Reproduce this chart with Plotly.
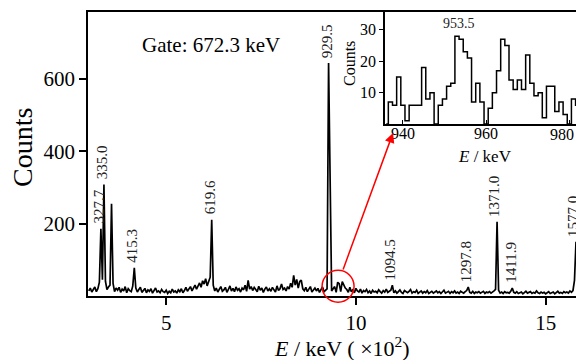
import numpy as np
import plotly.graph_objects as go

# ---------------- data ----------------
# main spectrum: 4 keV bins, centres 296 ... 1580 keV
bin_start, bin_step = 296, 4
main_counts = [
    14, 22, 11, 18, 25, 12, 20, 38, 186, 45,      # 296-332
    308, 40, 18, 25, 30, 255, 35, 12, 22, 16,     # 336-372
    24, 10, 19, 14, 26, 9, 20, 15, 12, 28,        # 376-412
    78, 22, 11, 18, 24, 10, 16, 21, 9, 17,        # 416-452
    13, 20, 8, 15, 22, 11, 14, 9, 18, 12,         # 456-492
    10, 16, 7, 13, 9, 19, 11, 14, 8, 17,          # 496-532
    12, 20, 9, 15, 24, 13, 18, 26, 14, 22,        # 536-572
    30, 19, 27, 36, 24, 42, 33, 48, 28, 40,       # 576-612
    52, 211, 30, 14, 22, 11, 19, 26, 13, 17,      # 616-652
    24, 10, 18, 28, 14, 21, 12, 25, 16, 20,       # 656-692
    11, 22, 17, 30, 13, 43, 19, 26, 15, 24,       # 696-732
    18, 12, 27, 16, 22, 10, 19, 25, 14, 20,       # 736-772
    13, 24, 17, 11, 28, 15, 20, 33, 18, 22,       # 776-812
    14, 26, 19, 35, 24, 57, 30, 46, 22, 40,       # 816-852
    44, 20, 15, 24, 12, 19, 26, 11, 17, 22,       # 856-892
    14, 21, 10, 18, 25, 12, 16, 20, 644, 250,     # 896-932
    14, 20, 26, 10, 38, 34, 12, 40, 28, 22,       # 936-972
    18, 10, 24, 12, 17, 9, 21, 14, 11, 19,        # 976-1012
    8, 15, 12, 18, 9, 14, 7, 16, 11, 13,          # 1016-1052
    9, 17, 12, 8, 15, 11, 19, 10, 13, 16,         # 1056-1092
    30, 9, 14, 8, 12, 17, 10, 7, 15, 11,          # 1096-1132
    9, 13, 18, 8, 12, 10, 16, 7, 11, 14,          # 1136-1172
    8, 12, 9, 15, 7, 11, 13, 8, 10, 14,           # 1176-1212
    9, 12, 7, 11, 16, 8, 10, 13, 7, 12,           # 1216-1252
    9, 14, 8, 11, 7, 13, 10, 8, 12, 15,           # 1256-1292
    25, 10, 8, 13, 7, 11, 9, 12, 8, 10,           # 1296-1332
    13, 7, 11, 9, 12, 8, 10, 14, 18, 205,         # 1336-1372
    16, 8, 11, 7, 12, 9, 10, 8, 13, 22,           # 1376-1412
    10, 8, 12, 7, 9, 11, 6, 10, 13, 8,            # 1416-1452
    9, 12, 7, 10, 8, 14, 9, 7, 11, 8,             # 1456-1492
    10, 6, 9, 12, 7, 8, 11, 6, 9, 13,             # 1496-1532
    8, 10, 7, 12, 9, 11, 8, 14, 10, 15,           # 1536-1572
    43, 150,                                      # 1576-1580
]
main_energy = [(bin_start + bin_step * i) / 100 for i in range(len(main_counts))]  # x 10^2 keV

peak_labels = ["327.7", "335.0", "415.3", "619.6", "929.5",
               "1094.5", "1297.8", "1371.0", "1411.9", "1577.0"]

# inset: 1 keV bins, 936 ... 983 keV
inset_energy = list(range(936, 984))
inset_counts = [0, 7, 6, 15, 6, 1, 6, 6, 6, 18, 8, 10, 0, 6, 8, 12, 13, 28, 27,
                23, 21, 7, 13, 7, 0, 5, 10, 17, 27, 25, 14, 11, 14, 11, 22, 13,
                9, 10, 2, 12, 12, 4, 7, 3, 0, 8, 6, 6]
inset_label = "953.5"

main_yticks = [200, 400, 600]
main_xticks = [5, 10, 15]
inset_xticks = [940, 960, 980]
inset_yticks = [10, 20, 30]

# ---------------- layout helpers ----------------
W, H = 576, 360
ML, MR, MT, MB = 88, 0, 12, 64
PW, PH = W - ML - MR, H - MT - MB
XR = [2.94, 15.80]
YR = [0, 785]
XR2 = [935.7, 981.6]

def paper(px, py):
    return (px - ML) / PW, (H - MB - py) / PH

FONT = "Liberation Serif"
fig = go.Figure()

fig.add_trace(go.Scatter(x=main_energy, y=main_counts, mode="lines",
                         line=dict(color="black", width=1.7),
                         xaxis="x", yaxis="y", showlegend=False,
                         hoverinfo="skip"))

fig.add_trace(go.Scatter(x=inset_energy, y=inset_counts, mode="lines",
                         line=dict(color="black", width=1.5, shape="hvh"),
                         xaxis="x2", yaxis="y2", showlegend=False,
                         hoverinfo="skip"))

inset_x0 = paper(385, 0)[0]
inset_y0 = paper(0, 124)[1]

fig.update_layout(
    width=W, height=H,
    margin=dict(l=ML, r=MR, t=MT, b=MB),
    paper_bgcolor="white", plot_bgcolor="rgba(0,0,0,0)",
    font=dict(family=FONT, color="black"),
    xaxis=dict(domain=[0, 1], range=XR, tickvals=main_xticks,
               showline=True, linecolor="black", linewidth=1.8, mirror=True,
               ticks="outside", ticklen=7, tickwidth=1.5, tickcolor="black",
               tickfont=dict(size=21, family=FONT),
               showgrid=False, zeroline=False),
    yaxis=dict(domain=[0, 1], range=YR, tickvals=main_yticks,
               showline=True, linecolor="black", linewidth=1.8,
               ticks="outside", ticklen=7, tickwidth=1.5, tickcolor="black",
               tickfont=dict(size=21, family=FONT),
               showgrid=False, zeroline=False),
    xaxis2=dict(domain=[inset_x0, 1], range=XR2, anchor="y2",
                tickvals=inset_xticks, showline=True, linecolor="black",
                linewidth=1.5, mirror=True, ticks="inside", ticklen=4,
                tickwidth=1.2, tickcolor="black", ticklabelstandoff=-6,
                tickfont=dict(size=16, family=FONT),
                showgrid=False, zeroline=False),
    yaxis2=dict(domain=[inset_y0, 1], range=[0, 35.7], anchor="x2",
                tickvals=inset_yticks, showline=True, linecolor="black",
                linewidth=1.5, ticks="outside", ticklen=4, tickwidth=1.2,
                tickcolor="black", tickfont=dict(size=16, family=FONT),
                showgrid=False, zeroline=False),
)

ann = []
# peak labels placed just above the highest bin near each labelled energy
for lab in peak_labels:
    e = float(lab)
    near = [c for x, c in zip(main_energy, main_counts) if abs(x * 100 - e) <= 6]
    ann.append(dict(x=e / 100, y=max(near), xref="x", yref="y", text=lab,
                    textangle=-90, showarrow=False, xanchor="center",
                    yanchor="bottom", yshift=3, xshift=-2,
                    font=dict(size=15, family=FONT, color="#222")))

# inset peak label
e = float(inset_label)
ann.append(dict(x=e, y=max(c for x, c in zip(inset_energy, inset_counts) if abs(x - e) <= 1),
                xref="x2", yref="y2", text=inset_label, showarrow=False,
                xanchor="center", yanchor="bottom", yshift=3,
                font=dict(size=14, family=FONT, color="#222")))

# last inset tick label sits at the right edge of the figure (kept inside the page)
last_tick = inset_xticks[-1]
tl_x, tl_y = paper(W, 134)
ann.append(dict(x=tl_x, y=tl_y, xref="paper", yref="paper", text=str(last_tick),
                showarrow=False, xanchor="right", yanchor="middle",
                font=dict(size=16, family=FONT)))

gx, gy = paper(211, 45)
ann.append(dict(x=gx, y=gy, xref="paper", yref="paper", text="Gate: 672.3 keV",
                showarrow=False, xanchor="center", yanchor="middle",
                font=dict(size=21, family=FONT)))

tx, ty = paper(342, 347)
ann.append(dict(x=tx, y=ty, xref="paper", yref="paper",
                text="<i>E</i> / keV ( ×10<sup>2</sup>)", showarrow=False,
                xanchor="center", yanchor="middle", font=dict(size=22, family=FONT)))
tx, ty = paper(22, 148)
ann.append(dict(x=tx, y=ty, xref="paper", yref="paper", text="Counts",
                textangle=-90, showarrow=False, xanchor="center",
                yanchor="middle", font=dict(size=28, family=FONT)))

tx, ty = paper(485, 156)
ann.append(dict(x=tx, y=ty, xref="paper", yref="paper", text="<i>E</i> / keV",
                showarrow=False, xanchor="center", yanchor="middle",
                font=dict(size=17, family=FONT)))
tx, ty = paper(350, 64)
ann.append(dict(x=tx, y=ty, xref="paper", yref="paper", text="Counts",
                textangle=-90, showarrow=False, xanchor="center",
                yanchor="middle", font=dict(size=16, family=FONT)))

# red zoom circle around the 953.5 region of the main spectrum
cx_data, cy_data, rad = 9.53, 27, 16
cpx = ML + (cx_data - XR[0]) / (XR[1] - XR[0]) * PW
cpy = H - MB - (cy_data - YR[0]) / (YR[1] - YR[0]) * PH
x0, y0 = paper(cpx - rad, cpy + rad)
x1, y1 = paper(cpx + rad, cpy - rad)
fig.add_shape(type="circle", xref="paper", yref="paper", x0=x0, y0=y0,
              x1=x1, y1=y1, line=dict(color="red", width=1.5))

# arrow from the circle to the inset
tail_px = (cpx + 4.5, cpy - 15.3)
head_px = (393, 133)
hx, hy = paper(*head_px)
ann.append(dict(x=hx, y=hy, xref="paper", yref="paper", text="",
                showarrow=True, arrowhead=2, arrowsize=1.3, arrowwidth=1.5,
                arrowcolor="red", ax=tail_px[0] - head_px[0],
                ay=tail_px[1] - head_px[1], standoff=0))

fig.update_layout(annotations=ann)
fig.write_html("out.html", config={"displayModeBar": False},
               post_script="document.body.style.margin='0';document.body.style.overflow='hidden';")
